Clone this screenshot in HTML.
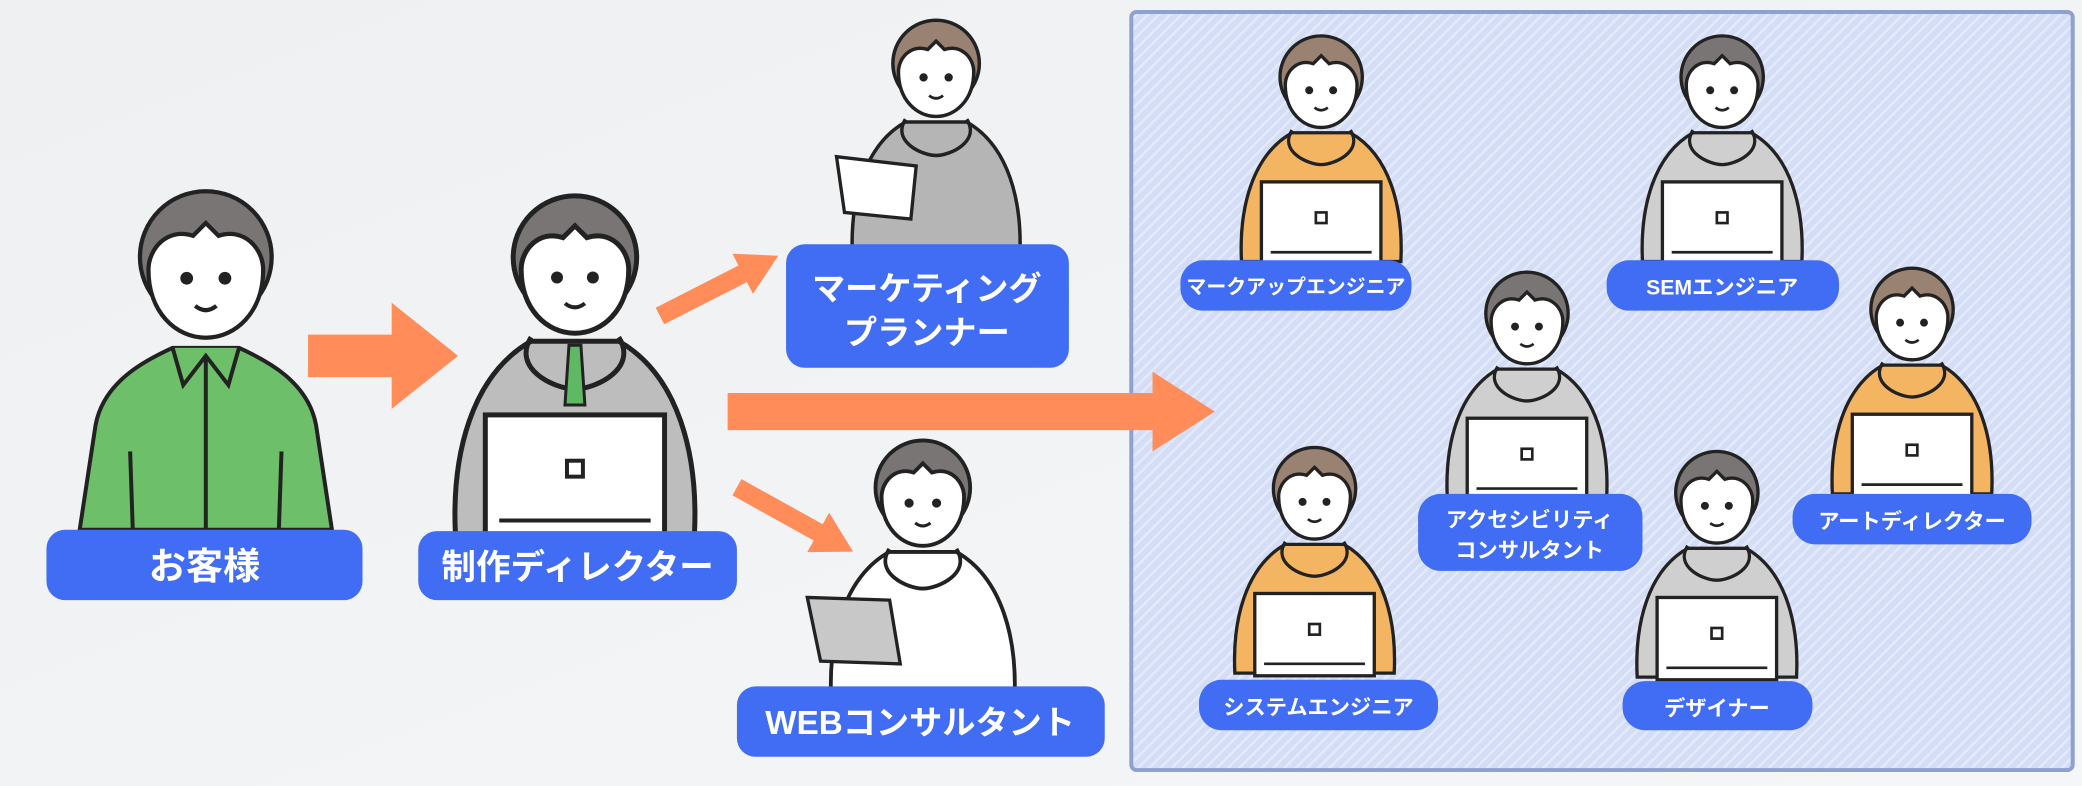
<!DOCTYPE html>
<html><head><meta charset="utf-8"><style>
html,body{margin:0;padding:0;background:#f1f2f4}
svg{display:block}
text{font-family:"Liberation Sans","Noto Sans CJK JP",sans-serif;font-weight:bold;fill:#fff;text-anchor:middle}
</style></head><body>
<svg width="2082" height="786" viewBox="0 0 1568 592" preserveAspectRatio="none" xmlns="http://www.w3.org/2000/svg">
<defs>
<linearGradient id="bg" x1="0" y1="0" x2="1" y2="1"><stop offset="0" stop-color="#eef0f2"/><stop offset="1" stop-color="#f5f6f7"/></linearGradient>
<pattern id="st" width="6" height="6" patternUnits="userSpaceOnUse" patternTransform="rotate(-45)"><rect width="6" height="6" fill="#d4ddf6"/><rect width="6" height="2" fill="#e3e9fa"/></pattern>
<g id="pp">
 <path d="M-60,135 C-62,95 -52,55 -22,38 L22,38 C52,55 62,95 60,135 Z" stroke="#222" stroke-width="2.5"/>
 <path d="M-22,36 C-32,52 -10,62 0,62 C10,62 32,52 22,36" fill="none" stroke="#222" stroke-width="2.5"/>
 <circle r="31" cy="-4" fill="currentColor" stroke="#222" stroke-width="2.5"/>
 <path d="M-27,2 C-27,-8 -18,-18 -6,-14 L0,-20 L6,-14 C18,-18 27,-8 27,2 C27,22 14,34 0,34 C-14,34 -27,22 -27,2Z" fill="#fff" stroke="#222" stroke-width="2.5"/>
 <circle cx="-9" cy="6" r="3" fill="#222"/><circle cx="9" cy="6" r="3" fill="#222"/>
 <path d="M-5,19 Q0,23 5,19" fill="none" stroke="#222" stroke-width="2"/>
</g>
<g id="lap">
 <rect x="-45" y="75" width="90" height="62" fill="#fff" stroke="#222" stroke-width="2.5"/>
 <rect x="-4" y="98" width="8" height="8" fill="none" stroke="#222" stroke-width="2"/>
 <line x1="-38" y1="128" x2="38" y2="128" stroke="#222" stroke-width="2"/>
</g>
</defs>
<rect width="1568" height="592" fill="url(#bg)"/>
<!-- panel -->
<rect x="852" y="9" width="709" height="571" rx="4" fill="url(#st)" stroke="#8ea1cf" stroke-width="3"/>

<!-- customer -->
<path d="M60,399 L72,320 C78,288 108,272 130,262 L180,262 C202,272 232,288 238,320 L250,399Z" fill="#6dbf6a" stroke="#222" stroke-width="3"/>
<path d="M155,268 L155,399 M98,340 L100,399 M212,340 L210,399" stroke="#222" stroke-width="3"/>
<path d="M130,262 L138,290 L155,268 L172,290 L180,262" fill="#6dbf6a" stroke="#222" stroke-width="3"/>
<g transform="translate(155,200) scale(1.6)"><circle r="31" cy="-4" fill="#7a7575" stroke="#222" stroke-width="2"/>
 <path d="M-27,2 C-27,-8 -18,-18 -6,-14 L0,-20 L6,-14 C18,-18 27,-8 27,2 C27,22 14,34 0,34 C-14,34 -27,22 -27,2Z" fill="#fff" stroke="#222" stroke-width="2"/>
 <circle cx="-9" cy="6" r="3" fill="#222"/><circle cx="9" cy="6" r="3" fill="#222"/><path d="M-5,19 Q0,23 5,19" fill="none" stroke="#222" stroke-width="2"/></g>
<rect x="35" y="399" width="238" height="53" rx="14" fill="#416cf4"/>
<text x="154" y="436" font-size="28">お客様</text>

<!-- arrows -->
<polygon points="232,252 295,252 295,228 345,268 295,308 295,284 232,284" fill="#ff8c59"/>
<polygon points="548,296 868,296 868,280 915,310 868,340 868,324 548,324" fill="#ff8c59"/>
<polygon points="0,-7 70,-7 70,-17 100,0 70,17 70,7 0,7" fill="#ff8c59" transform="translate(497,238) rotate(-27)"/>
<polygon points="0,-7 70,-7 70,-17 100,0 70,17 70,7 0,7" fill="#ff8c59" transform="translate(555,367) rotate(29)"/>

<!-- director -->
<g transform="translate(433,200) scale(1.5)" color="#7a7575" fill="#bdbdbd"><use href="#pp"/>
 <path d="M-3,40 L3,40 L5,70 L-5,70Z" fill="#5fb862" stroke="#222" stroke-width="1.5"/>
 <use href="#lap"/></g>
<rect x="315" y="400" width="240" height="52" rx="14" fill="#416cf4"/>
<text x="435" y="436" font-size="26">制作ディレクター</text>

<!-- planner -->
<g transform="translate(705,52) scale(1.05)" color="#9a8272" fill="#b5b5b5"><use href="#pp"/></g>
<path d="M630,118 L690,125 L686,165 L636,160Z" fill="#fff" stroke="#222" stroke-width="2.5"/>
<rect x="592" y="184" width="213" height="93" rx="14" fill="#416cf4"/>
<text x="698" y="226" font-size="25">マーケティング</text>
<text x="698" y="259" font-size="25">プランナー</text>

<!-- consultant -->
<g transform="translate(695,372) scale(1.15)" color="#7a7575" fill="#fff"><use href="#pp"/></g>
<path d="M608,450 L670,452 L678,500 L618,498Z" fill="#c8c8c8" stroke="#222" stroke-width="2.5"/>
<rect x="555" y="517" width="277" height="53" rx="14" fill="#416cf4"/>
<text x="693" y="553" font-size="25">WEBコンサルタント</text>

<!-- team -->
<g transform="translate(995,62)" color="#9a8272" fill="#f4b562"><use href="#pp"/><use href="#lap"/></g>
<rect x="889" y="196" width="174" height="38" rx="17" fill="#416cf4"/>
<text x="976" y="221" font-size="15">マークアップエンジニア</text>

<g transform="translate(1297,62)" color="#7a7575" fill="#cfcfcf"><use href="#pp"/><use href="#lap"/></g>
<rect x="1210" y="196" width="175" height="38" rx="17" fill="#416cf4"/>
<text x="1297" y="222" font-size="16">SEMエンジニア</text>

<g transform="translate(1150,240)" color="#7a7575" fill="#cfcfcf"><use href="#pp"/><use href="#lap"/></g>
<rect x="1068" y="372" width="169" height="58" rx="17" fill="#416cf4"/>
<text x="1152" y="397" font-size="16">アクセシビリティ</text>
<text x="1152" y="420" font-size="16">コンサルタント</text>

<g transform="translate(1440,237)" color="#9a8272" fill="#f4b562"><use href="#pp"/><use href="#lap"/></g>
<rect x="1350" y="372" width="180" height="38" rx="17" fill="#416cf4"/>
<text x="1440" y="398" font-size="16">アートディレクター</text>

<g transform="translate(990,372)" color="#9a8272" fill="#f4b562"><use href="#pp"/><use href="#lap"/></g>
<rect x="903" y="512" width="180" height="38" rx="17" fill="#416cf4"/>
<text x="993" y="538" font-size="16">システムエンジニア</text>

<g transform="translate(1293,375)" color="#7a7575" fill="#cfcfcf"><use href="#pp"/><use href="#lap"/></g>
<rect x="1222" y="513" width="143" height="37" rx="17" fill="#416cf4"/>
<text x="1293" y="539" font-size="16">デザイナー</text>
</svg>
</body></html>
